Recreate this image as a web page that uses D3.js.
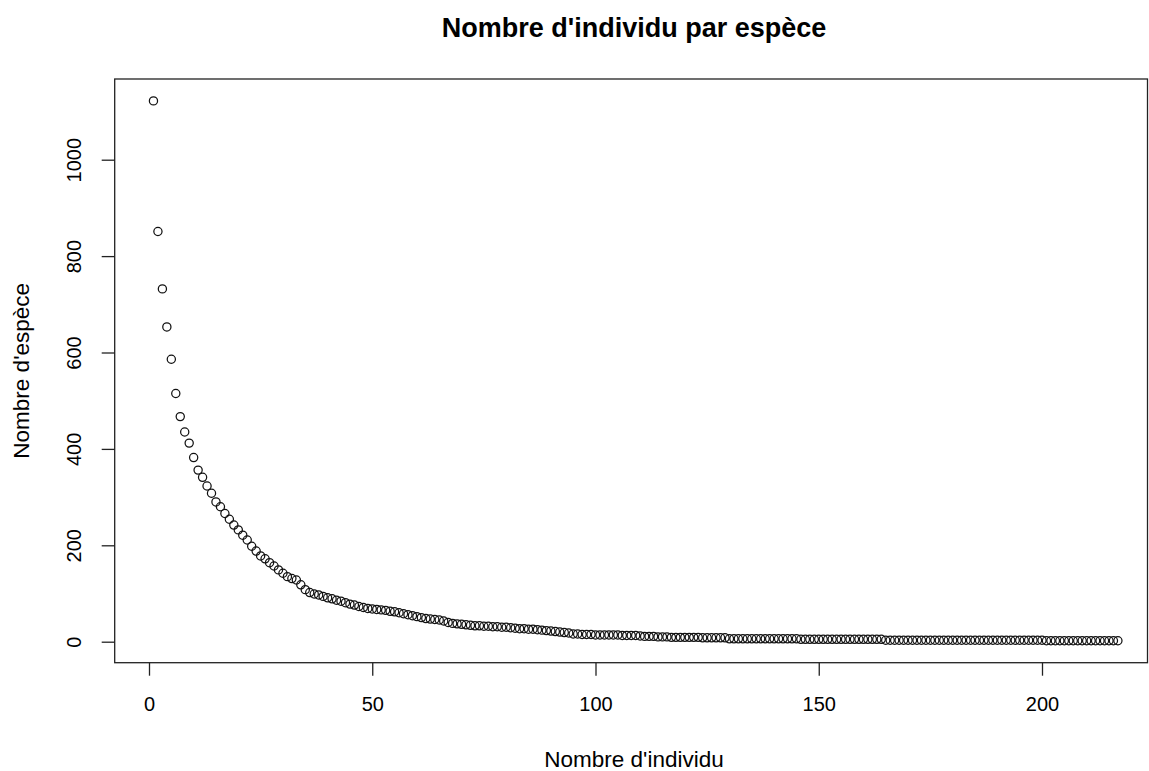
<!DOCTYPE html>
<html>
<head>
<meta charset="utf-8">
<script src="https://cdn.jsdelivr.net/npm/d3@7"></script>
<style>
  html, body { margin: 0; padding: 0; background: #fff; }
  svg { display: block; }
  text { font-family: "Liberation Sans", Arial, sans-serif; fill: #000; }
</style>
</head>
<body>
<svg id="chart" width="1149" height="771"></svg>
<script>
const title = "Nombre d'individu par espèce";
const xLabel = "Nombre d'individu";
const yLabel = "Nombre d'espèce";
const xTicks = [0, 50, 100, 150, 200];
const yTicks = [0, 200, 400, 600, 800, 1000];
const counts = [
  1122, 851, 732, 653, 586, 515, 467, 435, 412, 382,
  356, 341, 323, 308, 290, 280, 266, 254, 242, 232,
  221, 211, 198, 188, 178, 172, 164, 157, 149, 142,
  135, 131, 128, 118, 108, 102, 99, 97, 94, 91,
  89, 86, 84, 81, 78, 76, 73, 71, 69, 68,
  67, 66, 65, 63, 62, 60, 58, 56, 54, 52,
  50, 48, 47, 46, 45, 43, 40, 38, 37, 36,
  35, 34, 33, 33, 32, 32, 31, 31, 30, 30,
  29, 28, 27, 27, 26, 26, 25, 24, 23, 22,
  21, 20, 19, 18, 16, 16, 15, 15, 15, 14,
  14, 14, 14, 14, 14, 13, 13, 13, 13, 12,
  11, 11, 11, 10, 10, 10, 9, 9, 9, 9,
  9, 9, 9, 8, 8, 8, 8, 8, 8, 6,
  6, 6, 6, 6, 6, 6, 6, 6, 6, 6,
  6, 6, 6, 6, 6, 5, 5, 5, 5, 5,
  5, 5, 5, 5, 5, 5, 5, 5, 5, 5,
  5, 5, 5, 5, 3, 3, 3, 3, 3, 3,
  3, 3, 3, 3, 3, 3, 3, 3, 3, 3,
  3, 3, 3, 3, 3, 3, 3, 3, 3, 3,
  3, 3, 3, 3, 3, 3, 3, 3, 3, 3,
  2, 2, 2, 2, 2, 2, 2, 2, 2, 2,
  2, 2, 2, 2, 2, 2, 2
];

const svg = d3.select("#chart");
const box = { left: 114.7, right: 1147.5, top: 79, bottom: 662.7 };

const x = d3.scaleLinear().domain([0, 200]).range([149, 1042]);
const y = d3.scaleLinear().domain([0, 1000]).range([641.7, 159.7]);

const stroke = "#222";

// plot frame
svg.append("rect")
  .attr("x", box.left).attr("y", box.top)
  .attr("width", box.right - box.left).attr("height", box.bottom - box.top)
  .attr("fill", "none").attr("stroke", stroke).attr("stroke-width", 1.3);

// x axis
const xAxis = svg.append("g")
  .attr("transform", `translate(0,${box.bottom})`)
  .call(d3.axisBottom(x).tickValues(xTicks).tickSize(13).tickPadding(0).tickFormat(d3.format("d")));
xAxis.select(".domain").remove();
xAxis.selectAll(".tick line").attr("stroke", stroke).attr("stroke-width", 1.3);
xAxis.selectAll(".tick text")
  .attr("y", 48).attr("dy", null)
  .style("font-size", "20px")
  .style("font-family", "'Liberation Sans', Arial, sans-serif")
  .attr("fill", "#000");

// y axis
const yAxis = svg.append("g")
  .attr("transform", `translate(${box.left},0)`)
  .call(d3.axisLeft(y).tickValues(yTicks).tickSize(13).tickPadding(0).tickFormat(d3.format("d")));
yAxis.select(".domain").remove();
yAxis.selectAll(".tick line").attr("stroke", stroke).attr("stroke-width", 1.3);
yAxis.selectAll(".tick text")
  .attr("x", null).attr("dy", null)
  .attr("text-anchor", "middle")
  .attr("transform", `translate(${81 - box.left},0) rotate(-90)`)
  .style("font-size", "20px")
  .style("font-family", "'Liberation Sans', Arial, sans-serif")
  .attr("fill", "#000");

// points
svg.append("g")
  .selectAll("circle")
  .data(counts)
  .join("circle")
  .attr("cx", (d, i) => x(i + 1))
  .attr("cy", d => y(d))
  .attr("r", 4.1)
  .attr("fill", "none")
  .attr("stroke", "#111")
  .attr("stroke-width", 1.25);

// titles
svg.append("text")
  .attr("x", 634).attr("y", 37)
  .attr("text-anchor", "middle")
  .style("font-size", "27px").style("font-weight", "bold")
  .text(title);

svg.append("text")
  .attr("x", 634).attr("y", 767)
  .attr("text-anchor", "middle")
  .style("font-size", "22.5px")
  .text(xLabel);

svg.append("text")
  .attr("transform", `translate(29,${(box.top + box.bottom) / 2}) rotate(-90)`)
  .attr("text-anchor", "middle")
  .style("font-size", "22.5px")
  .text(yLabel);
</script>
</body>
</html>
